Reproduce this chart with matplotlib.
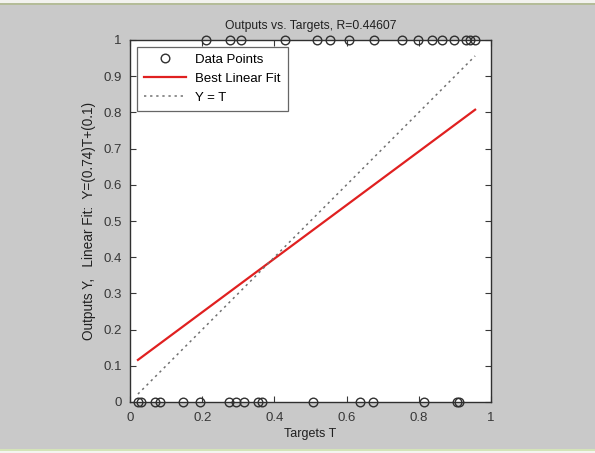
import matplotlib
matplotlib.use("Agg")
import matplotlib.pyplot as plt
from matplotlib.patches import Rectangle
import numpy as np

plt.rcParams['font.family'] = ['Liberation Sans', 'DejaVu Sans']

targets_one = [0.211, 0.277, 0.308, 0.429, 0.518, 0.553, 0.607, 0.675, 0.753, 0.797, 0.837, 0.864, 0.898, 0.931, 0.942, 0.956]
targets_zero = [0.022, 0.030, 0.069, 0.083, 0.146, 0.194, 0.274, 0.294, 0.316, 0.355, 0.365, 0.507, 0.636, 0.672, 0.814, 0.906, 0.911]
fit_slope = 0.74
fit_intercept = 0.1
title_text = "Outputs vs. Targets, R=0.44607"

T = np.array(targets_zero + targets_one)
Y = np.array([0.0] * len(targets_zero) + [1.0] * len(targets_one))

W, H = 595, 453
fig = plt.figure(figsize=(W / 100, H / 100), dpi=100)
fig.patch.set_facecolor('#c9c9c9')
# thin frame strips of the screenshot
fig.add_artist(Rectangle((0, 1 - 3 / H), 1, 3 / H, transform=fig.transFigure, color='#f2f2ee', lw=0))
fig.add_artist(Rectangle((0, 1 - 5 / H), 1, 2 / H, transform=fig.transFigure, color='#b4bc98', lw=0))
fig.add_artist(Rectangle((0, 0), 1, 2 / H, transform=fig.transFigure, color='#f4f4f0', lw=0))
fig.add_artist(Rectangle((0, 2 / H), 1, 2 / H, transform=fig.transFigure, color='#d4e4b8', lw=0))

ax = fig.add_axes([130 / W, 51 / H, 361 / W, 362 / H])
ax.set_facecolor('white')

ax.plot(T, Y, 'o', mfc='none', mec='#303030', ms=6.2, mew=1.0, clip_on=False, label='Data Points', zorder=3)
tx = np.array([T.min(), T.max()])
ax.plot(tx, fit_slope * tx + fit_intercept, '-', color='#e02020', lw=1.6, label='Best Linear Fit')
ax.plot(tx, tx, ':', color='#707070', lw=1.1, dashes=(1.5, 2.5), label='Y = T')

ax.set_xlim(0, 1)
ax.set_ylim(0, 1)
ax.set_xticks(np.arange(0, 1.01, 0.2))
ax.set_xticklabels(['0', '0.2', '0.4', '0.6', '0.8', '1'])
ax.set_yticks(np.arange(0, 1.01, 0.1))
ax.set_yticklabels(['0'] + ['%.1f' % v for v in np.arange(0.1, 0.95, 0.1)] + ['1'])
ax.tick_params(direction='in', top=True, right=True, length=4, width=0.8, labelsize=9.5, colors='#383838')
ax.tick_params(axis='x', pad=7)
ax.tick_params(axis='y', pad=6)
for s in ax.spines.values():
    s.set_color('#303030')
    s.set_linewidth(1.0)

ax.set_title(title_text, fontsize=8.7, color='#202020', pad=8)
ax.set_xlabel('Targets T', fontsize=9, color='#202020', labelpad=3)
ax.set_ylabel('Outputs Y,   Linear Fit:  Y=(0.74)T+(0.1)', fontsize=9.8, color='#202020', labelpad=5)

leg = ax.legend(loc='upper left', fontsize=9.5, frameon=True, fancybox=False, edgecolor='#404040',
                borderaxespad=0.5, handlelength=3.2, handletextpad=0.7, labelspacing=0.5, borderpad=0.55)
leg.get_frame().set_linewidth(0.9)

fig.savefig('out.png', dpi=100, facecolor=fig.get_facecolor())
